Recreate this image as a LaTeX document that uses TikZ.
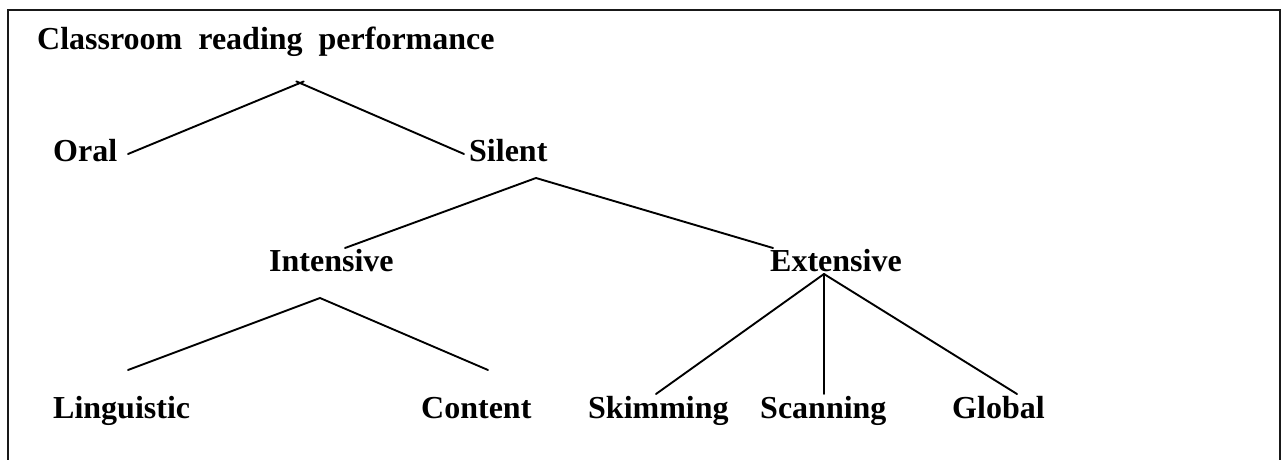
\documentclass[tikz,border=0pt]{standalone}
\usepackage{fontspec}
\setmainfont{Liberation Serif}
\usepackage{tikz}
\usetikzlibrary{positioning}

\tikzset{
  label/.style={anchor=base west, inner sep=0pt, font=\fontsize{32}{38}\selectfont\bfseries},
  branch/.style={line width=1.9pt, line cap=round},
  frame/.style={line width=2.4pt, draw=black!90}
}

\begin{document}
\begin{tikzpicture}[x=1pt, y=-1pt]
\useasboundingbox (0,0) rectangle (1288,460);
% open box around the tree
\draw[frame] (8,460) -- (8,10) -- (1280,10) -- (1280,460);

% labels
\node[label] (title) at (37,50) {Classroom\ \ reading\ \ performance};
\node[label] (oral) at (53,161) {Oral};
\node[label] (silent) at (469,161) {Silent};
\node[label] (intensive) at (269,271) {Intensive};
\node[label] (extensive) at (770,271) {Extensive};
\node[label] (linguistic) at (53,418) {Linguistic};
\node[label] (content) at (421,418) {Content};
\node[label] (skimming) at (588,418) {Skimming};
\node[label] (scanning) at (760,418) {Scanning};
\node[label] (global) at (952,418) {Global};

% branch points and line ends
\coordinate (top) at (300,83);
\coordinate (oral-end) at (128,154);
\coordinate (silent-end) at (464,154);
\coordinate (silent-j) at (536,178);
\coordinate (intensive-end) at (345,248);
\coordinate (extensive-end) at (773,248);
\coordinate (intensive-j) at (320,298);
\coordinate (linguistic-end) at (128,370);
\coordinate (content-end) at (488,370);
\coordinate (extensive-j) at (824,274);
\coordinate (skimming-end) at (656,394);
\coordinate (scanning-end) at (824,394);
\coordinate (global-end) at (1017,394);

\draw[branch, shorten >=-4pt] (oral-end) -- (top);
\draw[branch, shorten >=-4pt] (silent-end) -- (top);
\draw[branch] (intensive-end) -- (silent-j) -- (extensive-end);
\draw[branch] (linguistic-end) -- (intensive-j) -- (content-end);
\draw[branch] (extensive-j) -- (skimming-end);
\draw[branch] (extensive-j) -- (scanning-end);
\draw[branch] (extensive-j) -- (global-end);
\end{tikzpicture}
\end{document}
